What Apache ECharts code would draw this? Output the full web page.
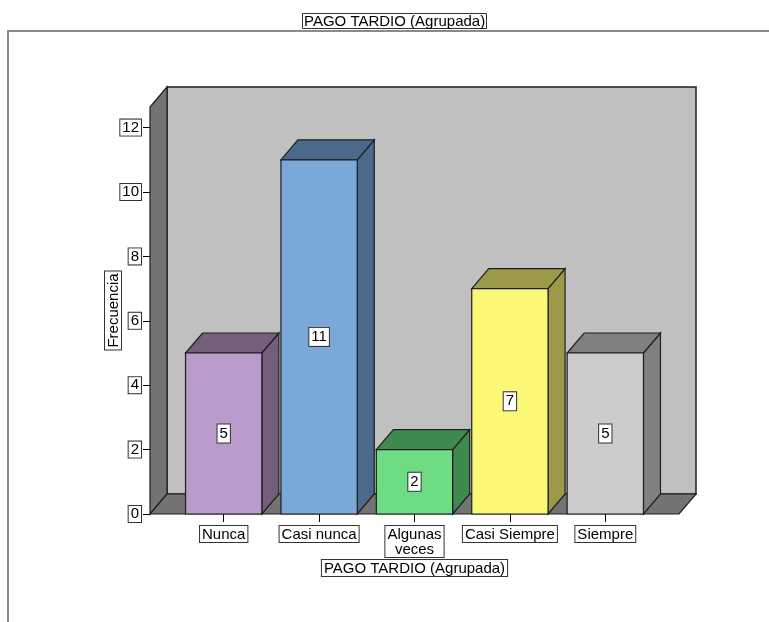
<!DOCTYPE html>
<html>
<head>
<meta charset="utf-8">
<script src="https://cdn.jsdelivr.net/npm/echarts@6/dist/echarts.min.js"></script>
<style>
  html, body { margin: 0; padding: 0; background: #ffffff; }
  #chart { width: 769px; height: 622px; }
</style>
</head>
<body>
<div id="chart"></div>
<script>
// Frequency of late payment (grouped), SPSS-style 3D bar chart
const categories = ['Nunca', 'Casi nunca', 'Algunas\nveces', 'Casi Siempre', 'Siempre'];
const frequencies = [5, 11, 2, 7, 5];
const yTicks = [0, 2, 4, 6, 8, 10, 12];
const yAxisTop = 12.64;

const frontColors = ['#b89bca', '#7ba9d7', '#6ddc82', '#fbf877', '#cccccc'];
const sideColors  = ['#745e7b', '#4a6a8b', '#3f8a4f', '#9c9a48', '#808080'];

const FONT = 'Liberation Sans, Arial, sans-serif';
const DEPTH_X = 17;   // horizontal offset of the back plane
const DEPTH_Y = 20;   // vertical offset of the back plane
const SIDE_MARGIN = 26; // floor overhang beyond the outer category bands
const EDGE = '#1e1e1e';

const boxed = {
  color: '#000',
  fontFamily: FONT,
  fontSize: 15,
  backgroundColor: '#ffffff',
  borderColor: '#333',
  borderWidth: 1,
  padding: [1, 2, 0, 2]
};

const chart = echarts.init(document.getElementById('chart'));

// Walls and floor of the 3D frame, sized from the axes
function renderFrame(params, api) {
  const band = api.size([1, 0])[0];
  const first = api.coord([0, 0]);
  const last = api.coord([categories.length - 1, 0]);
  const top = api.coord([0, yAxisTop])[1];
  const yb = first[1];
  const L = first[0] - band / 2 - SIDE_MARGIN;
  const R = last[0] + band / 2 + SIDE_MARGIN;
  const dx = DEPTH_X, dy = DEPTH_Y;
  return {
    type: 'group',
    children: [
      { type: 'rect', shape: { x: L + dx, y: top - dy, width: R - L, height: yb - top },
        style: { fill: '#c0c0c0', stroke: EDGE, lineWidth: 1.5 } },
      { type: 'polygon', shape: { points: [[L, yb], [L, top], [L + dx, top - dy], [L + dx, yb - dy]] },
        style: { fill: '#737373', stroke: EDGE, lineWidth: 1.2 } },
      { type: 'polygon', shape: { points: [[L, yb], [R, yb], [R + dx, yb - dy], [L + dx, yb - dy]] },
        style: { fill: '#737373', stroke: EDGE, lineWidth: 1.2 } }
    ]
  };
}

// One 3D bar: front face, top face and right side, with its value label
function renderBar(params, api) {
  const idx = api.value(0);
  const v = api.value(1);
  const base = api.coord([idx, 0]);
  const head = api.coord([idx, v]);
  const band = api.size([1, 0])[0];
  const w = band * 0.8;
  const x0 = base[0] - w / 2, x1 = x0 + w;
  const yt = head[1], yb = base[1];
  const dx = DEPTH_X, dy = DEPTH_Y;
  const i = params.dataIndex;
  return {
    type: 'group',
    children: [
      { type: 'polygon', shape: { points: [[x1, yt], [x1 + dx, yt - dy], [x1 + dx, yb - dy], [x1, yb]] },
        style: { fill: sideColors[i], stroke: EDGE, lineWidth: 1.2 } },
      { type: 'polygon', shape: { points: [[x0, yt], [x1, yt], [x1 + dx, yt - dy], [x0 + dx, yt - dy]] },
        style: { fill: sideColors[i], stroke: EDGE, lineWidth: 1.2 } },
      { type: 'rect', shape: { x: x0, y: yt, width: w, height: yb - yt },
        style: { fill: frontColors[i], stroke: EDGE, lineWidth: 1.2 } },
      { type: 'text', x: base[0], y: (yt + yb) / 2,
        style: Object.assign({}, boxed, {
          text: String(v), align: 'center', verticalAlign: 'middle', fill: '#000',
          padding: [2, 2, 1, 2]
        }) }
    ]
  };
}

const option = {
  animation: false,
  backgroundColor: '#ffffff',
  title: {
    text: 'PAGO TARDIO (Agrupada)',
    left: 302,
    top: 13,
    padding: [1, 2, 0, 2],
    backgroundColor: '#ffffff',
    borderColor: '#333',
    borderWidth: 1,
    textStyle: { color: '#000', fontFamily: FONT, fontSize: 15, fontWeight: 'normal' },
    z: 10
  },
  graphic: [
    { type: 'polyline', z: 5, shape: { points: [[8, 622], [8, 31], [769, 31]] },
      style: { stroke: '#8a8a8a', lineWidth: 2, fill: null } }
  ],
  grid: { left: 176, right: 116, top: 107, bottom: 108 },
  xAxis: {
    type: 'category',
    data: categories,
    axisLine: { show: false },
    axisTick: { show: true, alignWithLabel: true, length: 8, lineStyle: { color: '#000' } },
    axisLabel: Object.assign({}, boxed, { margin: 12, lineHeight: 15, interval: 0 }),
    splitLine: { show: false },
    name: 'PAGO TARDIO (Agrupada)',
    nameLocation: 'middle',
    nameGap: 46,
    nameMoveOverlap: false,
    nameTextStyle: Object.assign({}, boxed)
  },
  yAxis: {
    type: 'value',
    min: 0,
    max: yAxisTop,
    offset: SIDE_MARGIN,
    axisLine: { show: true, lineStyle: { color: '#000', width: 1 } },
    axisTick: { show: true, length: 7, customValues: yTicks, lineStyle: { color: '#000' } },
    axisLabel: Object.assign({}, boxed, { customValues: yTicks, margin: 9 }),
    splitLine: { show: false },
    name: 'Frecuencia',
    nameLocation: 'middle',
    nameRotate: 90,
    nameGap: 29,
    nameMoveOverlap: false,
    nameTextStyle: Object.assign({}, boxed)
  },
  series: [
    { type: 'custom', name: 'marco', z: 1, clip: false,
      renderItem: renderFrame, data: [[0, 0]], silent: true },
    { type: 'custom', name: 'Frecuencia', z: 2, clip: false,
      renderItem: renderBar,
      data: frequencies.map((f, i) => [i, f]) }
  ]
};

chart.setOption(option);
</script>
</body>
</html>
